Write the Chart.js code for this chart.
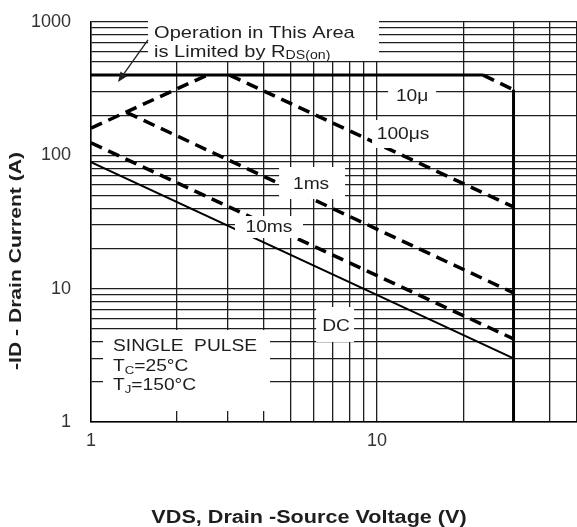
<!DOCTYPE html>
<html>
<head>
<meta charset="utf-8">
<script src="https://cdn.jsdelivr.net/npm/chart.js@4.4.1/dist/chart.umd.min.js"></script>
<style>
  html, body { margin: 0; padding: 0; background: #fff; }
  #soa { display: block; }
</style>
</head>
<body>
<canvas id="soa" width="577" height="527"></canvas>
<script>
const FONT = '"Liberation Sans", Arial, sans-serif';
const INK = "#1e1e1e";

// log grid and the labelled ticks
const xGridValues = [1, 2, 3, 4, 5, 6, 7, 8, 9, 10, 20, 30, 40, 50];
const yGridValues = [
  1, 2, 3, 4, 5, 6, 7, 8, 9,
  10, 20, 30, 40, 50, 60, 70, 80, 90,
  100, 200, 300, 400, 500, 600, 700, 800, 900,
  1000,
];
const xTickLabels = [1, 10];
const yTickLabels = [1, 10, 100, 1000];

// curves: VDS (V) against -ID (A)
const rdsVds = [1, 2.55];
const rdsId = [160, 400];

const us10Vds = [1, 23.5, 30];
const us10Id = [400, 400, 310];

const us100Vds = [3.05, 30];
const us100Id = [400, 41];

const ms1Vds = [1.33, 30];
const ms1Id = [210, 9.3];

const ms10Vds = [1, 30];
const ms10Id = [124, 4.2];

const dcVds = [1, 30];
const dcId = [89, 3.0];

const vmaxVds = [30, 30];
const vmaxId = [310, 1];

// text boxes: anchor in data units, box edges in px around it
const notes = [
  { at: [1.661, 827], box: [-6, 225, -20, 28], align: "left", gap: 19, sx: 1.18,
    lines: [[["Operation in This Area", 17]], [["is Limited by R", 17], ["DS(on)", 12, 4]]] },
  { at: [13.26, 274], box: [-24, 24, -14, 12], align: "center", gap: 0, sx: 1.2, lines: [[["10μ", 16]]] },
  { at: [12.33, 142], box: [-31, 29, -15, 13], align: "center", gap: 0, sx: 1.2, lines: [[["100μs", 16]]] },
  { at: [5.88, 59.9], box: [-32, 34, -18, 14], align: "center", gap: 0, sx: 1.2, lines: [[["1ms", 16]]] },
  { at: [4.19, 28.5], box: [-34, 34, -12, 10], align: "center", gap: 0, sx: 1.2, lines: [[["10ms", 16]]] },
  { at: [7.19, 5.16], box: [-20, 18, -20, 15], align: "center", gap: 0, sx: 1.2, lines: [[["DC", 16]]] },
  { at: [1.194, 3.65], box: [-10, 157, -17, 64], align: "left", gap: 19.5, sx: 1.2,
    lines: [
      [["SINGLE  PULSE", 16]],
      [["T", 16], ["C", 11, 4], ["=25°C", 16]],
      [["T", 16], ["J", 11, 4], ["=150°C", 16]],
    ] },
];
const arrowFrom = [1.582, 733];
const arrowTo = [1.243, 355];

function pairs(xs, ys) {
  return xs.map((v, i) => ({ x: v, y: ys[i] }));
}

function drawRich(ctx, parts, x, y, opts) {
  const weight = opts.weight || "normal";
  ctx.save();
  ctx.fillStyle = INK;
  ctx.textBaseline = "middle";
  ctx.textAlign = "left";
  let w = 0;
  parts.forEach((p) => {
    ctx.font = `${weight} ${p[1]}px ${FONT}`;
    w += ctx.measureText(p[0]).width;
  });
  ctx.translate(x, y);
  if (opts.rotate) ctx.rotate(opts.rotate);
  ctx.scale(opts.sx || 1, 1);
  let cur = opts.align === "center" ? -w / 2 : 0;
  parts.forEach((p) => {
    ctx.font = `${weight} ${p[1]}px ${FONT}`;
    ctx.fillText(p[0], cur, p[2] || 0);
    cur += ctx.measureText(p[0]).width;
  });
  ctx.restore();
}

const annotations = {
  id: "annotations",
  afterDatasetsDraw(chart) {
    const ctx = chart.ctx;
    const { x, y } = chart.scales;

    notes.forEach((note) => {
      const cx = x.getPixelForValue(note.at[0]);
      const cy = y.getPixelForValue(note.at[1]);
      const [l, r, t, b] = note.box;
      ctx.fillStyle = "#fff";
      ctx.fillRect(cx + l, cy + t, r - l, b - t);
      note.lines.forEach((parts, i) => {
        drawRich(ctx, parts, cx, cy + i * note.gap, { align: note.align, sx: note.sx });
      });
    });

    // arrow pointing at the RDS(on) limited area
    const x0 = x.getPixelForValue(arrowFrom[0]);
    const y0 = y.getPixelForValue(arrowFrom[1]);
    const x1 = x.getPixelForValue(arrowTo[0]);
    const y1 = y.getPixelForValue(arrowTo[1]);
    const ang = Math.atan2(y1 - y0, x1 - x0);
    ctx.save();
    ctx.strokeStyle = INK;
    ctx.fillStyle = INK;
    ctx.lineWidth = 1.3;
    ctx.beginPath();
    ctx.moveTo(x0, y0);
    ctx.lineTo(x1 - 6 * Math.cos(ang), y1 - 6 * Math.sin(ang));
    ctx.stroke();
    ctx.beginPath();
    ctx.moveTo(x1, y1);
    ctx.lineTo(x1 - 10 * Math.cos(ang) + 4 * Math.sin(ang), y1 - 10 * Math.sin(ang) - 4 * Math.cos(ang));
    ctx.lineTo(x1 - 10 * Math.cos(ang) - 4 * Math.sin(ang), y1 - 10 * Math.sin(ang) + 4 * Math.cos(ang));
    ctx.closePath();
    ctx.fill();
    ctx.restore();

    // axis titles
    drawRich(ctx, [["VDS, Drain -Source Voltage (V)", 18]], 309, 518, { align: "center", sx: 1.2, weight: "bold" });
    drawRich(ctx, [["-ID - Drain Current (A)", 17]], 16, 261, { align: "center", sx: 1.24, weight: "bold", rotate: -Math.PI / 2 });
  },
};

const lineStyle = {
  borderColor: "#000",
  pointRadius: 0,
  tension: 0,
  fill: false,
  borderCapStyle: "butt",
};
const dash = [12, 7];

new Chart(document.getElementById("soa"), {
  type: "line",
  data: {
    datasets: [
      { ...lineStyle, label: "RDS(on)", data: pairs(rdsVds, rdsId), borderWidth: 3.5, borderDash: dash },
      {
        ...lineStyle,
        label: "10μ",
        data: pairs(us10Vds, us10Id),
        borderWidth: 3,
        segment: { borderDash: (c) => (c.p0DataIndex === 1 ? dash : undefined), borderWidth: (c) => (c.p0DataIndex === 1 ? 3.5 : 3) },
      },
      { ...lineStyle, label: "100μs", data: pairs(us100Vds, us100Id), borderWidth: 3.5, borderDash: dash },
      { ...lineStyle, label: "1ms", data: pairs(ms1Vds, ms1Id), borderWidth: 3.5, borderDash: dash },
      { ...lineStyle, label: "10ms", data: pairs(ms10Vds, ms10Id), borderWidth: 3.5, borderDash: dash },
      { ...lineStyle, label: "DC", data: pairs(dcVds, dcId), borderWidth: 2 },
      { ...lineStyle, label: "VDS max", data: pairs(vmaxVds, vmaxId), borderWidth: 3 },
    ],
  },
  options: {
    responsive: false,
    animation: false,
    layout: { padding: { top: 22, right: 0, left: 0, bottom: 0 } },
    plugins: {
      legend: { display: false },
      tooltip: { enabled: false },
    },
    scales: {
      x: {
        type: "logarithmic",
        min: 1,
        max: 50,
        afterBuildTicks: (scale) => {
          scale.ticks = xGridValues.map((v) => ({ value: v }));
        },
        afterFit: (scale) => {
          scale.height = 105;
          scale.paddingLeft = 0;
          scale.paddingRight = 0;
        },
        grid: { color: INK, lineWidth: 1.3, drawTicks: false },
        border: { color: "#000", width: 1.5 },
        ticks: {
          autoSkip: false,
          maxRotation: 0,
          padding: 8,
          color: "#333",
          font: { family: FONT, size: 18 },
          callback: (v) => (xTickLabels.includes(v) ? String(v) : ""),
        },
      },
      y: {
        type: "logarithmic",
        min: 1,
        max: 1000,
        afterBuildTicks: (scale) => {
          scale.ticks = yGridValues.map((v) => ({ value: v }));
        },
        afterFit: (scale) => {
          scale.width = 91;
          scale.paddingTop = 0;
          scale.paddingBottom = 0;
        },
        grid: { color: INK, lineWidth: 1.3, drawTicks: false },
        border: { color: "#000", width: 1.5 },
        ticks: {
          autoSkip: false,
          padding: 20,
          color: "#333",
          font: { family: FONT, size: 18 },
          callback: (v) => (yTickLabels.includes(v) ? String(v) : ""),
        },
      },
    },
  },
  plugins: [annotations],
});
</script>
</body>
</html>
